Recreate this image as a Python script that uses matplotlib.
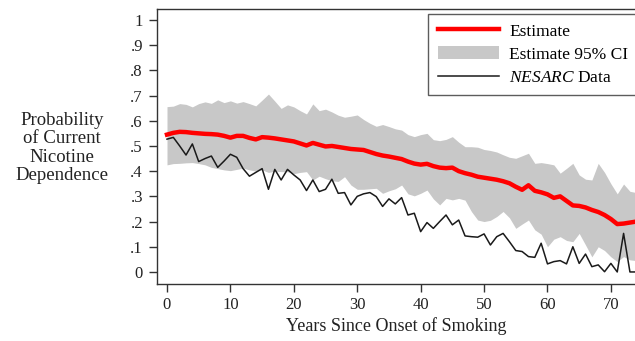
import numpy as np
import matplotlib
matplotlib.use("Agg")
from matplotlib import pyplot as plt

plt.rcParams['font.family'] = ['Liberation Serif', 'DejaVu Serif']
plt.rcParams['mathtext.fontset'] = 'custom'
plt.rcParams['mathtext.rm'] = 'Liberation Serif'
plt.rcParams['mathtext.it'] = 'Liberation Serif:italic'

years = np.arange(0, 75)

estimate = [.545, .552, .556, .555, .552, .550, .548, .547, .545, .540,
            .533, .540, .540, .532, .526, .535, .533, .530, .526, .522,
            .518, .510, .502, .512, .505, .498, .500, .496, .492, .488,
            .486, .484, .476, .468, .462, .458, .453, .448, .438, .430,
            .426, .429, .420, .414, .412, .414, .400, .392, .386, .378,
            .374, .370, .366, .360, .352, .338, .326, .344, .322, .316,
            .308, .294, .300, .282, .264, .262, .256, .246, .238, .226,
            .210, .190, .192, .196, .200]

ci_upper = [.656, .658, .668, .665, .655, .668, .675, .669, .683, .672,
            .679, .670, .676, .668, .659, .682, .706, .678, .649, .663,
            .655, .640, .627, .667, .640, .646, .635, .622, .614, .618,
            .623, .605, .590, .578, .585, .577, .568, .563, .545, .537,
            .545, .550, .525, .521, .526, .537, .515, .497, .497, .495,
            .486, .482, .476, .465, .455, .451, .461, .471, .431, .434,
            .430, .425, .392, .411, .431, .385, .368, .365, .431, .395,
            .350, .310, .349, .320, .315]

ci_lower = [.425, .430, .431, .433, .434, .430, .425, .415, .410, .405,
            .402, .407, .412, .405, .400, .405, .395, .400, .398, .398,
            .390, .395, .398, .365, .380, .370, .362, .359, .378, .345,
            .328, .328, .330, .332, .312, .322, .330, .345, .310, .302,
            .312, .325, .290, .266, .292, .286, .292, .285, .240, .206,
            .200, .205, .220, .240, .215, .173, .190, .206, .167, .150,
            .100, .130, .140, .125, .120, .153, .107, .060, .100, .085,
            .060, .041, .061, .048, .045]

nesarc = [.527, .534, .500, .464, .508, .438, .450, .460, .415, .440,
          .467, .455, .410, .380, .395, .410, .328, .407, .365, .407,
          .385, .365, .323, .365, .319, .328, .368, .312, .315, .266,
          .300, .310, .315, .299, .260, .290, .270, .295, .226, .233,
          .160, .196, .173, .200, .226, .187, .206, .143, .140, .138,
          .151, .107, .140, .153, .120, .085, .081, .061, .058, .114,
          .032, .041, .045, .032, .100, .034, .071, .021, .028, .001,
          .034, .000, .153, .000, .000]

y_ticks = np.arange(0, 1.01, 0.1)
y_ticklabels = ['0', '.1', '.2', '.3', '.4', '.5', '.6', '.7', '.8', '.9', '1']
x_ticks = np.arange(0, 71, 10)

fig = plt.figure(figsize=(6.35, 3.41), dpi=100)
ax = fig.add_axes([0.247, 0.167, 0.753, 0.807])

ax.fill_between(years, ci_lower, ci_upper, color='#c8c8c8', lw=0,
                label='Estimate 95% CI')
ax.plot(years, nesarc, color='#1a1a1a', lw=1.1, label=r'$\it{NESARC}$ Data')
ax.plot(years, estimate, color='#ff0000', lw=3.2, label='Estimate')

ax.set_xlim(-1.6, 73.8)
ax.set_ylim(-0.048, 1.044)
ax.set_yticks(y_ticks)
ax.set_yticklabels(y_ticklabels)
ax.set_xticks(x_ticks)

for s in ['left', 'bottom', 'top']:
    ax.spines[s].set_color('#333333')
    ax.spines[s].set_linewidth(1.0)
ax.spines['right'].set_visible(False)
ax.tick_params(axis='both', direction='out', length=6, width=1,
               color='#333333', labelsize=12, labelcolor='#222222')
ax.tick_params(axis='y', pad=4)

ax.set_xlabel('Years Since Onset of Smoking', fontsize=13, color='#222222',
              labelpad=3)
fig.text(0.098, 0.566, 'Probability\nof Current\nNicotine\nDependence',
         ha='center', va='center', fontsize=13.5, color='#222222',
         linespacing=1.12)

handles, labels = ax.get_legend_handles_labels()
order = [2, 0, 1]
leg = ax.legend([handles[i] for i in order], [labels[i] for i in order],
                loc='upper right', bbox_to_anchor=(1.006, 0.982),
                borderaxespad=0, fontsize=12.5, frameon=True, fancybox=False,
                handlelength=3.5, handletextpad=0.6, borderpad=0.55,
                labelspacing=0.4)
leg.get_frame().set_edgecolor('#333333')
leg.get_frame().set_linewidth(1.0)

fig.savefig('out.png', dpi=100)
